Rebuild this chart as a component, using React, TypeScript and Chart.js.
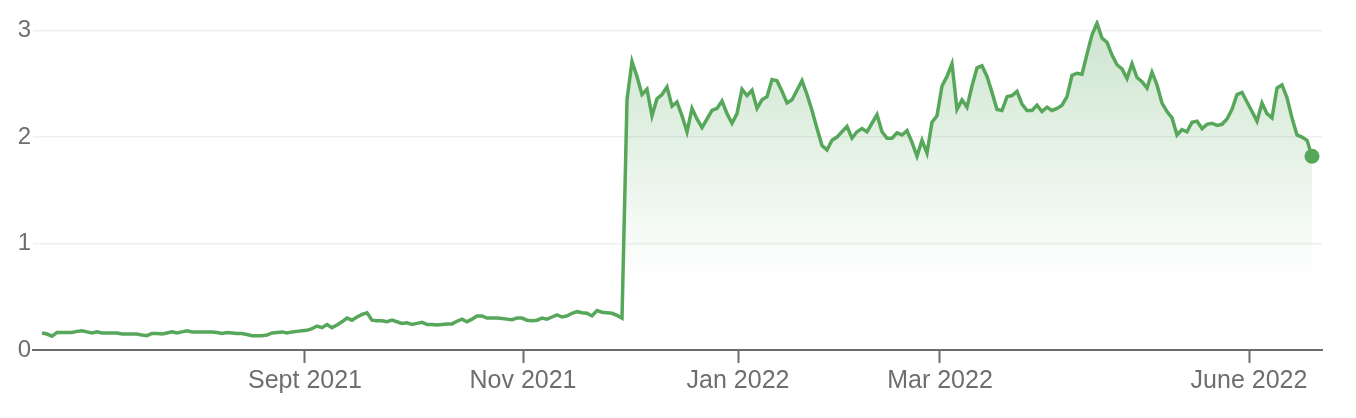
import React, { useEffect, useRef } from "react";
import { Chart, registerables } from "chart.js";

Chart.register(...registerables);

// Daily values (one per trading day, ~June 2021 – June 2022)
const values: number[] = [
  0.16, 0.15, 0.13, 0.165, 0.165, 0.165, 0.165, 0.175, 0.18, 0.17,
  0.16, 0.17, 0.16, 0.16, 0.16, 0.16, 0.15, 0.15, 0.15, 0.15,
  0.14, 0.135, 0.155, 0.155, 0.15, 0.16, 0.17, 0.16, 0.17, 0.18,
  0.17, 0.17, 0.17, 0.17, 0.17, 0.165, 0.155, 0.165, 0.16, 0.155,
  0.155, 0.145, 0.135, 0.135, 0.135, 0.14, 0.16, 0.165, 0.17, 0.16,
  0.17, 0.175, 0.18, 0.185, 0.2, 0.225, 0.21, 0.24, 0.21, 0.235,
  0.265, 0.3, 0.28, 0.31, 0.335, 0.35, 0.28, 0.275, 0.275, 0.265,
  0.28, 0.265, 0.25, 0.255, 0.24, 0.25, 0.26, 0.24, 0.24, 0.235,
  0.24, 0.245, 0.245, 0.27, 0.29, 0.265, 0.29, 0.32, 0.32, 0.3,
  0.3, 0.3, 0.295, 0.29, 0.285, 0.3, 0.3, 0.28, 0.275, 0.28,
  0.3, 0.29, 0.31, 0.33, 0.31, 0.32, 0.345, 0.36, 0.35, 0.345,
  0.32, 0.37, 0.355, 0.35, 0.345, 0.325, 0.3, 2.35, 2.71, 2.57,
  2.4, 2.45, 2.2, 2.36, 2.4, 2.47, 2.29, 2.33, 2.2, 2.05,
  2.27, 2.17, 2.09, 2.17, 2.25, 2.27, 2.34, 2.22, 2.13, 2.22,
  2.45, 2.39, 2.44, 2.27, 2.35, 2.38, 2.54, 2.53, 2.43, 2.32,
  2.35, 2.44, 2.53, 2.4, 2.25, 2.08, 1.92, 1.88, 1.97, 2.0,
  2.05, 2.1, 1.99, 2.05, 2.08, 2.05, 2.13, 2.21, 2.05, 1.99,
  1.99, 2.04, 2.02, 2.06, 1.95, 1.82, 1.97, 1.85, 2.14, 2.2,
  2.48, 2.57, 2.69, 2.26, 2.35, 2.28, 2.48, 2.65, 2.67, 2.57,
  2.42, 2.26, 2.25, 2.38, 2.39, 2.43, 2.31, 2.25, 2.25, 2.3,
  2.24, 2.28, 2.25, 2.27, 2.3, 2.38, 2.58, 2.6, 2.59, 2.78,
  2.96, 3.07, 2.93, 2.89, 2.77, 2.68, 2.64, 2.55, 2.69, 2.56,
  2.52, 2.46, 2.61, 2.49, 2.32, 2.24, 2.18, 2.02, 2.07, 2.05,
  2.14, 2.15, 2.08, 2.12, 2.13, 2.11, 2.12, 2.17, 2.26, 2.4,
  2.42, 2.33, 2.24, 2.15, 2.32, 2.22, 2.18, 2.46, 2.49, 2.37,
  2.18, 2.02, 2.0, 1.97, 1.82,
];

// x-axis tick labels and the trading-day index where each month starts
const xTickLabels: string[] = ["Sept 2021", "Nov 2021", "Jan 2022", "Mar 2022", "June 2022"];
const xTickIndex: number[] = [52.6, 96.2, 139.2, 179.6, 241.4];

// y-axis ticks
const yTicks: number[] = [0, 1, 2, 3];

const LINE = "#57a75b";
const LABEL = "#6e6e6e";

export default function App() {
  const ref = useRef<HTMLCanvasElement | null>(null);

  useEffect(() => {
    const canvas = ref.current;
    if (!canvas) return;
    const points = values.map((y, i) => ({ x: i, y }));
    const last = values.length - 1;

    const chart = new Chart(canvas, {
      type: "line",
      data: {
        datasets: [
          {
            data: points,
            borderColor: LINE,
            borderWidth: 3.5,
            tension: 0,
            pointRadius: values.map((_, i) => (i === last ? 7.5 : 0)),
            pointHoverRadius: values.map((_, i) => (i === last ? 7.5 : 0)),
            pointBackgroundColor: LINE,
            pointBorderWidth: 0,
            fill: "origin",
            backgroundColor: (ctx: any) => {
              const area = ctx.chart.chartArea;
              if (!area) return "rgba(87,167,91,0.2)";
              const g = ctx.chart.ctx.createLinearGradient(0, area.top, 0, area.top + 262);
              g.addColorStop(0, "rgba(87,167,91,0.30)");
              g.addColorStop(1, "rgba(87,167,91,0)");
              return g;
            },
          },
        ],
      },
      options: {
        animation: false,
        responsive: true,
        maintainAspectRatio: false,
        layout: { padding: { top: 20, right: 34, left: 0, bottom: 19 } },
        plugins: { legend: { display: false }, tooltip: { enabled: false } },
        scales: {
          x: {
            type: "linear",
            min: -1.8,
            max: 256,
            afterBuildTicks: (scale: any) => {
              scale.ticks = xTickIndex.map((v) => ({ value: v }));
            },
            ticks: {
              autoSkip: false,
              maxRotation: 0,
              color: LABEL,
              padding: 3,
              font: { family: "'Liberation Sans', Arial, sans-serif", size: 25 },
              callback: (v: any) => {
                const k = xTickIndex.indexOf(Number(v));
                return k >= 0 ? xTickLabels[k] : "";
              },
            },
            grid: {
              display: true,
              drawOnChartArea: false,
              drawTicks: true,
              tickLength: 13,
              tickWidth: 2,
              tickColor: "#6b6b6b",
            },
            border: { display: true, color: "#6b6b6b", width: 2 },
          },
          y: {
            min: 0,
            max: 3.1,
            afterBuildTicks: (scale: any) => {
              scale.ticks = yTicks.map((v) => ({ value: v }));
            },
            afterFit: (scale: any) => {
              scale.width = 33;
            },
            ticks: {
              color: LABEL,
              padding: 2,
              font: { family: "'Liberation Sans', Arial, sans-serif", size: 24 },
            },
            grid: {
              drawTicks: false,
              color: (c: any) => (c.tick && c.tick.value === 0 ? "rgba(0,0,0,0)" : "#efefef"),
              lineWidth: 1.5,
            },
            border: { display: false },
          },
        },
      },
    });
    return () => chart.destroy();
  }, []);

  return (
    <div style={{ position: "fixed", left: 0, top: 0, width: 1356, height: 418, background: "#fff" }}>
      <canvas ref={ref} />
    </div>
  );
}
